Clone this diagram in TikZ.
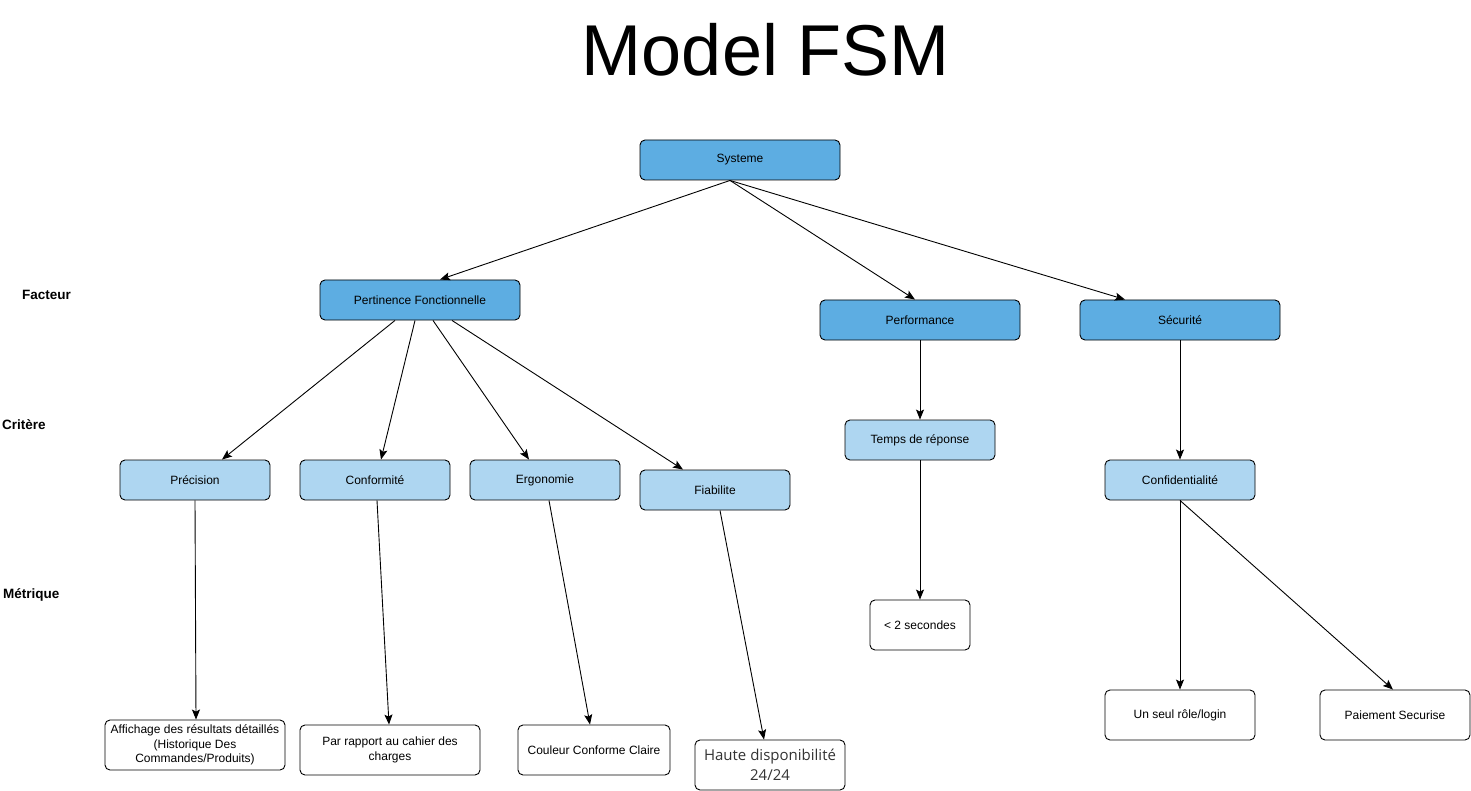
\documentclass[tikz,border=0pt]{standalone}
\usepackage{fontspec}
\setmainfont{Liberation Sans}
\newfontfamily\hautefont{Open Sans}
\usetikzlibrary{arrows.meta}
\definecolor{facteurblue}{HTML}{5DADE2}
\definecolor{criterblue}{HTML}{AED6F1}
\tikzset{>={Stealth[length=10pt,width=8pt,inset=2pt]}}
\tikzset{
  box/.style={draw,line width=0.9pt,rounded corners=5pt,align=center,
    font=\fontsize{12}{14.5}\selectfont},
  facteur/.style={box,fill=facteurblue,minimum width=200pt,minimum height=40pt},
  critere/.style={box,fill=criterblue,minimum width=150pt,minimum height=40pt},
  metrique/.style={box,fill=white,minimum width=150pt,minimum height=50pt},
  niveau/.style={anchor=west,inner sep=0pt,font=\fontsize{13.5}{16}\selectfont\bfseries},
  lien/.style={->,line width=0.9pt}
}

\begin{document}
\begin{tikzpicture}[x=1pt,y=-1pt]
\useasboundingbox (0,0) rectangle (1471,791);
\node[anchor=base,font=\fontsize{72}{80}\selectfont] (title) at (766,76) {Model FSM};
\node[niveau] (lfac) at (22,295) {Facteur};
\node[niveau] (lcrit) at (2,425) {Critère};
\node[niveau] (lmet) at (3,595) {Métrique};
% facteurs
\node[facteur] (sys) at (740,160) {Systeme};
\node[facteur] (pert) at (420,300) {Pertinence Fonctionnelle};
\node[facteur] (perf) at (920,320) {Performance};
\node[facteur] (secu) at (1180,320) {Sécurité};
% criteres
\node[critere] (prec) at (195,480) {Précision};
\node[critere] (conf) at (375,480) {Conformité};
\node[critere] (ergo) at (545,480) {Ergonomie};
\node[critere] (fiab) at (715,490) {Fiabilite};
\node[critere] (temps) at (920,440) {Temps de réponse};
\node[critere] (confid) at (1180,480) {Confidentialité};
% metriques
\node[metrique,minimum width=100pt] (deux) at (920,625) {< 2 secondes};
\node[metrique,minimum width=180pt] (affi) at (195,745)
  {Affichage des résultats détaillés\\(Historique Des\\Commandes/Produits)};
\node[metrique,minimum width=180pt] (rapp) at (390,750) {Par rapport au cahier des\\charges};
\node[metrique,minimum width=152pt] (coul) at (594,750) {Couleur Conforme Claire};
\node[metrique,text=black!80,font=\hautefont\fontsize{15}{20}\selectfont] (haute) at (770,765)
  {Haute disponibilité\\24/24};
\node[metrique] (seul) at (1180,715) {Un seul rôle/login};
\node[metrique] (paie) at (1395,715) {Paiement Securise};

\draw[lien] ([xshift=-10pt]sys.south) -- ([xshift=20pt]pert.north);
\draw[lien] ([xshift=-10pt]sys.south) -- ([xshift=-5pt]perf.north);
\draw[lien] ([xshift=-10pt]sys.south) -- ([xshift=-55pt]secu.north);
\foreach \s/\n/\e in {-25/prec/27,-5/conf/6,13/ergo/-16,32/fiab/-32}
  \draw[lien] ([xshift=\s pt]pert.south) -- ([xshift=\e pt]\n.north);
\draw[lien] (perf) -- (temps);
\draw[lien] (secu) -- (confid);
\draw[lien] (prec.south) -- ([xshift=1pt]affi.north);
\draw[lien] ([xshift=2pt]conf.south) -- ([xshift=-1pt]rapp.north);
\draw[lien] ([xshift=4pt]ergo.south) -- ([xshift=-4pt]coul.north);
\draw[lien] ([xshift=5pt]fiab.south) -- ([xshift=-6pt]haute.north);
\draw[lien] (temps) -- (deux);
\draw[lien] (confid) -- (seul);
\draw[lien] (confid.south) -- ([xshift=-2pt]paie.north);
\end{tikzpicture}
\end{document}
